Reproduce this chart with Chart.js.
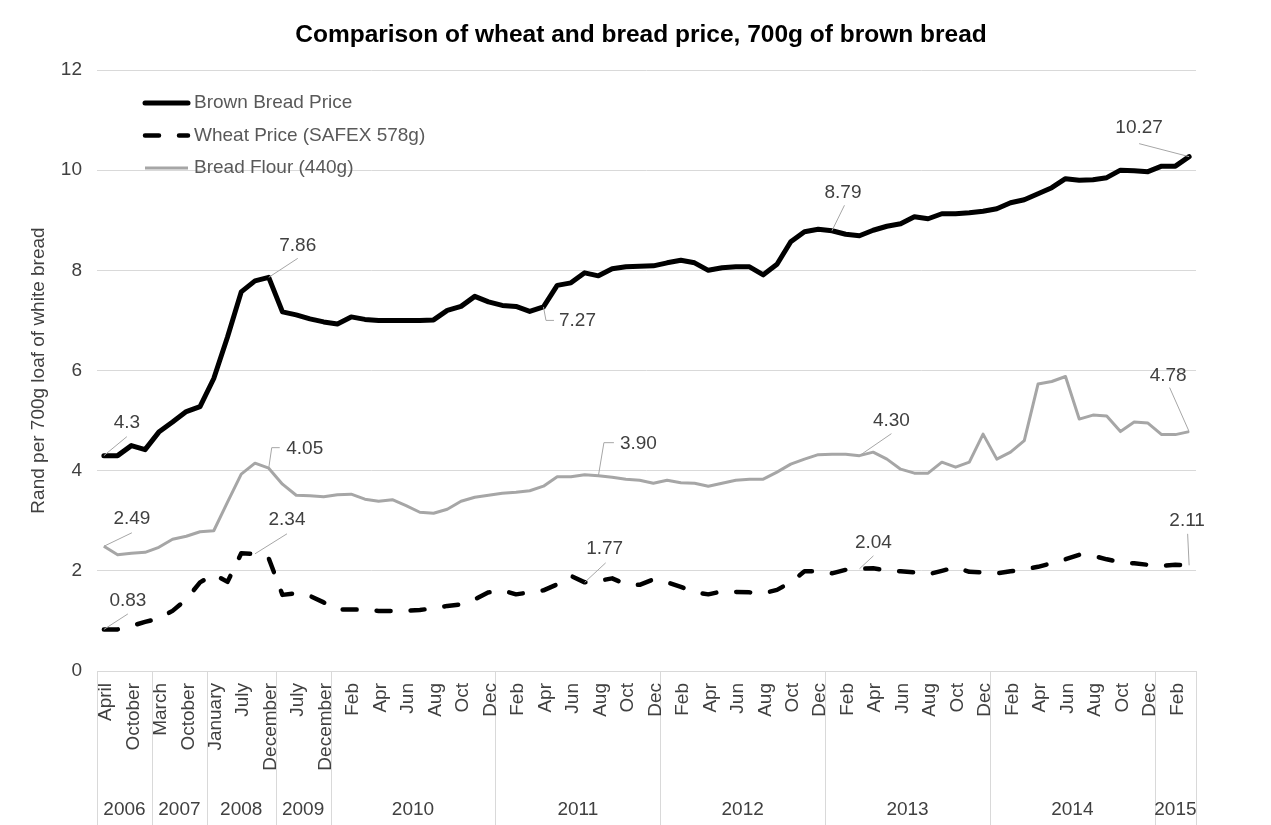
<!DOCTYPE html>
<html>
<head>
<meta charset="utf-8">
<script src="https://cdn.jsdelivr.net/npm/chart.js@4/dist/chart.umd.min.js"></script>
<style>
  html, body { margin: 0; padding: 0; background: #fff; }
</style>
</head>
<body>
<canvas id="chart" width="1271" height="825"></canvas>
<script>
// category labels (only every second one is shown, like the original)
var earlyLabels = ['April', '', 'October', '', 'March', '', 'October', '', 'January', '', 'July', '', 'December', '', 'July', '', 'December'];
var months = ['Jan', 'Feb', 'Mar', 'Apr', 'May', 'Jun', 'Jul', 'Aug', 'Sep', 'Oct', 'Nov', 'Dec'];
var lastMonths = ['Jan', 'Feb', 'Mar'];
var categoryLabels = earlyLabels.concat(months, months, months, months, months, lastMonths);

// second row of the axis: years and how many points each covers
var years = ['2006', '2007', '2008', '2009', '2010', '2011', '2012', '2013', '2014', '2015'];
var yearSpans = [4, 4, 5, 4, 12, 12, 12, 12, 12, 3];

var seriesNames = ['Brown Bread Price', 'Wheat Price (SAFEX 578g)', 'Bread Flour (440g)'];

var brownBread = [4.3, 4.30, 4.50, 4.42, 4.77, 4.97, 5.18, 5.28, 5.84, 6.67, 7.57, 7.79, 7.86, 7.17, 7.11, 7.03, 6.97,
  6.93, 7.07, 7.02, 7.00, 7.00, 7.00, 7.00, 7.01, 7.20, 7.28, 7.48, 7.37,
  7.30, 7.28, 7.18, 7.27, 7.70, 7.75, 7.95, 7.89, 8.03, 8.07, 8.08, 8.09,
  8.15, 8.20, 8.15, 8.00, 8.05, 8.07, 8.07, 7.91, 8.12, 8.57, 8.77, 8.82,
  8.79, 8.72, 8.69, 8.80, 8.88, 8.93, 9.07, 9.03, 9.13, 9.13, 9.15, 9.18,
  9.23, 9.35, 9.41, 9.53, 9.65, 9.83, 9.80, 9.81, 9.85, 10.00, 9.99, 9.97,
  10.08, 10.08, 10.27];

var wheat = [0.83, 0.83, 0.90, 0.98, 1.05, 1.20, 1.43, 1.77, 1.93, 1.78, 2.35, 2.34, 2.25, 1.52, 1.55, 1.50, 1.37,
  1.23, 1.23, 1.22, 1.20, 1.20, 1.20, 1.22, 1.25, 1.30, 1.33, 1.43, 1.57,
  1.61, 1.53, 1.57, 1.61, 1.73, 1.90, 1.77, 1.80, 1.85, 1.73, 1.72, 1.83,
  1.77, 1.68, 1.57, 1.53, 1.59, 1.58, 1.57, 1.55, 1.62, 1.77, 1.99, 1.99,
  1.95, 2.02, 2.04, 2.05, 2.01, 1.99, 1.97, 1.93, 2.00, 2.07, 1.98, 1.97,
  1.95, 1.99, 2.03, 2.08, 2.15, 2.23, 2.32, 2.30, 2.23, 2.17, 2.15, 2.12,
  2.10, 2.12, 2.11];

var breadFlour = [2.49, 2.32, 2.35, 2.37, 2.47, 2.63, 2.69, 2.78, 2.80, 3.37, 3.93, 4.15, 4.05, 3.73, 3.51, 3.50, 3.48,
  3.52, 3.53, 3.43, 3.39, 3.42, 3.30, 3.17, 3.15, 3.23, 3.39, 3.47, 3.51,
  3.55, 3.57, 3.60, 3.69, 3.88, 3.88, 3.92, 3.90, 3.87, 3.83, 3.81, 3.75,
  3.81, 3.76, 3.75, 3.69, 3.75, 3.81, 3.83, 3.83, 3.97, 4.13, 4.23, 4.32,
  4.33, 4.33, 4.30, 4.37, 4.23, 4.03, 3.95, 3.95, 4.17, 4.07, 4.17, 4.73,
  4.23, 4.37, 4.60, 5.73, 5.78, 5.88, 5.03, 5.11, 5.09, 4.78, 4.97, 4.95,
  4.72, 4.72, 4.78];

// which points get a value label (dataset, index, decimals)
var labelledPoints = [
  [0, 0, 1], [0, 12, 2], [0, 32, 2], [0, 53, 2], [0, 79, 2],
  [1, 0, 2], [1, 11, 2], [1, 35, 2], [1, 55, 2], [1, 79, 2],
  [2, 0, 2], [2, 12, 2], [2, 36, 2], [2, 55, 2], [2, 79, 2]
];

// label placement: text offset + leader line points, relative to the point
var labelPlacement = [
  { dx: 23, dy: -33, leader: [[23, -19]] },
  { dx: 29, dy: -32, leader: [[29, -19]] },
  { dx: 34, dy: 13.5, leader: [[2.5, 13.5], [10.5, 13.5]] },
  { dx: 11, dy: -38, leader: [[12.5, -25.5]] },
  { dx: -50, dy: -29, leader: [[-50, -13]] },
  { dx: 24, dy: -28.5, leader: [[24, -15.5]] },
  { dx: 32, dy: -34, leader: [[32, -20]] },
  { dx: 20, dy: -33.5, leader: [[21, -19.5]] },
  { dx: 14, dy: -26, leader: [[14, -13]] },
  { dx: -2, dy: -44.5, leader: [[-1.5, -31.5]] },
  { dx: 28, dy: -28, leader: [[28, -13.5]] },
  { dx: 36, dy: -19.5, leader: [[3, -20.5], [11, -20.5]] },
  { dx: 40, dy: -32, leader: [[5.5, -33], [15.5, -33]] },
  { dx: 32, dy: -35, leader: [[32, -22]] },
  { dx: -21, dy: -56, leader: [[-19.5, -44]] }
];

var FONT = '"Liberation Sans", Arial, sans-serif';
var TXT = '#404040';
Chart.defaults.font.family = FONT;
Chart.defaults.font.size = 19;
Chart.defaults.color = TXT;

var titlePlugin = {
  id: 'bigTitle',
  afterDraw: function(chart) {
    var ctx = chart.ctx;
    ctx.save();
    ctx.font = 'bold 24.5px ' + FONT;
    ctx.fillStyle = '#000';
    ctx.textAlign = 'center';
    ctx.textBaseline = 'middle';
    ctx.fillText('Comparison of wheat and bread price, 700g of brown bread', 641, 35);
    ctx.restore();
  }
};

function yearEdges(chart) {
  var a = chart.chartArea;
  var w = (a.right - a.left) / categoryLabels.length;
  var xs = [a.left], cum = 0;
  yearSpans.forEach(function(s) { cum += s; xs.push(a.left + cum * w); });
  return xs;
}

var yearPlugin = {
  id: 'yearRow',
  // dividers go under the tick labels
  beforeDraw: function(chart) {
    var ctx = chart.ctx, a = chart.chartArea;
    ctx.save();
    ctx.strokeStyle = '#d9d9d9';
    ctx.lineWidth = 1;
    yearEdges(chart).forEach(function(x) {
      var px = Math.round(x) + 0.5;
      ctx.beginPath();
      ctx.moveTo(px, a.bottom);
      ctx.lineTo(px, chart.height);
      ctx.stroke();
    });
    ctx.restore();
  },
  afterDraw: function(chart) {
    var ctx = chart.ctx, xs = yearEdges(chart);
    ctx.save();
    ctx.fillStyle = TXT;
    ctx.font = '19px ' + FONT;
    ctx.textAlign = 'center';
    ctx.textBaseline = 'middle';
    years.forEach(function(y, k) {
      ctx.fillText(y, (xs[k] + xs[k + 1]) / 2, 810);
    });
    ctx.restore();
  }
};

var legendPlugin = {
  id: 'innerLegend',
  afterDraw: function(chart) {
    var ctx = chart.ctx;
    ctx.save();
    ctx.font = '19px ' + FONT;
    ctx.textBaseline = 'middle';
    chart.data.datasets.forEach(function(ds, k) {
      var y = 103 + k * 32.5;
      ctx.strokeStyle = ds.borderColor;
      ctx.lineWidth = ds.borderWidth;
      ctx.lineCap = ds.borderCapStyle || 'butt';
      ctx.setLineDash(ds.borderDash || []);
      ctx.beginPath();
      ctx.moveTo(145, y);
      ctx.lineTo(188, y);
      ctx.stroke();
      ctx.setLineDash([]);
      ctx.fillStyle = '#595959';
      ctx.fillText(ds.label, 194, y);
    });
    ctx.restore();
  }
};

var calloutPlugin = {
  id: 'callouts',
  afterDatasetsDraw: function(chart) {
    var ctx = chart.ctx;
    ctx.save();
    ctx.font = '19px ' + FONT;
    ctx.textAlign = 'center';
    ctx.textBaseline = 'middle';
    labelledPoints.forEach(function(p, k) {
      var place = labelPlacement[k];
      var pt = chart.getDatasetMeta(p[0]).data[p[1]];
      var v = chart.data.datasets[p[0]].data[p[1]];
      ctx.strokeStyle = '#a6a6a6';
      ctx.lineWidth = 1;
      ctx.beginPath();
      ctx.moveTo(pt.x, pt.y);
      place.leader.forEach(function(q) { ctx.lineTo(pt.x + q[0], pt.y + q[1]); });
      ctx.stroke();
      ctx.fillStyle = TXT;
      ctx.fillText(v.toFixed(p[2]), pt.x + place.dx, pt.y + place.dy);
    });
    ctx.restore();
  }
};

var ctx = document.getElementById('chart').getContext('2d');
var chart = new Chart(ctx, {
  type: 'line',
  data: {
    labels: categoryLabels,
    datasets: [{
      label: seriesNames[0],
      data: brownBread,
      borderColor: '#000000',
      borderWidth: 5,
      borderJoinStyle: 'round',
      borderCapStyle: 'round'
    }, {
      label: seriesNames[1],
      data: wheat,
      borderColor: '#000000',
      borderWidth: 4.5,
      borderDash: [14, 20],
      borderJoinStyle: 'round',
      borderCapStyle: 'round'
    }, {
      label: seriesNames[2],
      data: breadFlour,
      borderColor: '#a6a6a6',
      borderWidth: 3,
      borderJoinStyle: 'round'
    }]
  },
  options: {
    responsive: false,
    animation: false,
    layout: { padding: { top: 70, right: 75, bottom: 0, left: 0 } },
    elements: { point: { radius: 0 }, line: { tension: 0 } },
    plugins: {
      legend: { display: false },
      tooltip: { enabled: false },
      title: { display: false }
    },
    scales: {
      x: {
        offset: true,
        grid: { display: false, drawTicks: false },
        border: { color: '#d9d9d9' },
        ticks: {
          autoSkip: false,
          maxRotation: 90,
          minRotation: 90,
          padding: 12,
          labelOffset: 2,
          color: TXT,
          callback: function(val, i) { return i % 2 === 0 ? categoryLabels[i] : ''; }
        },
        afterFit: function(s) { s.height = 154; }
      },
      y: {
        min: 0,
        max: 12,
        grid: { color: '#d9d9d9', drawTicks: false },
        border: { display: false },
        ticks: { stepSize: 2, padding: 15, color: TXT },
        title: {
          display: true,
          text: 'Rand per 700g loaf of white bread',
          color: TXT,
          padding: { top: 27, bottom: 0 }
        },
        afterFit: function(s) { s.width = 97; }
      }
    }
  },
  plugins: [calloutPlugin, yearPlugin, legendPlugin, titlePlugin]
});
</script>
</body>
</html>
